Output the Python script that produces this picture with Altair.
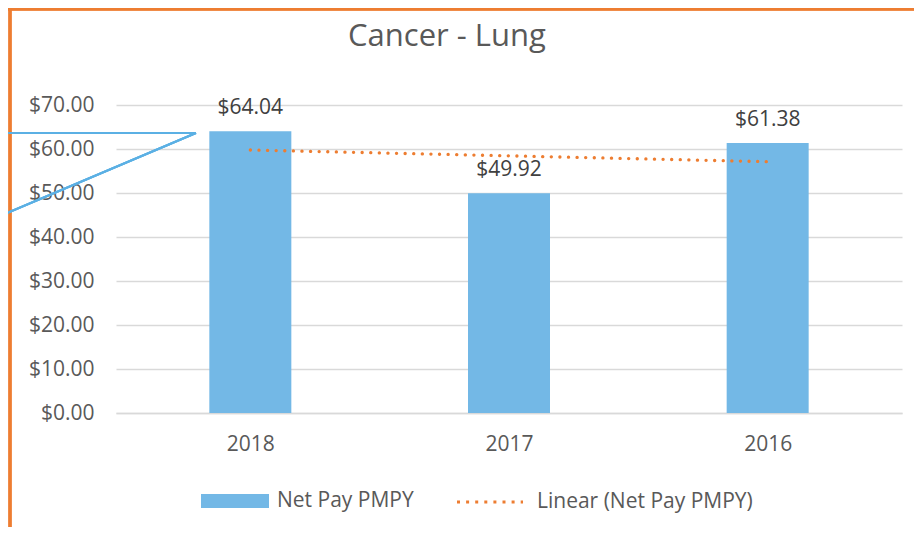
import altair as alt
import pandas as pd

years = ["2018", "2017", "2016"]
values = [64.04, 49.92, 61.38]
series_bar = "Net Pay PMPY"
series_trend = "Linear (Net Pay PMPY)"
y_ticks = [0, 10, 20, 30, 40, 50, 60, 70]

BLUE = "#73b8e6"
ORANGE = "#ed7d31"
TEXT = "#595959"
FONT = "Open Sans"

df = pd.DataFrame({
    "year": years,
    "idx": list(range(1, len(years) + 1)),
    "value": values,
    "series": [series_bar] * len(years),
})

label_expr = "datum.value == 1 ? '2018' : datum.value == 2 ? '2017' : datum.value == 3 ? '2016' : ''"

x_scale = alt.Scale(domain=[0.5, 3.5], nice=False, zero=False)
y_scale = alt.Scale(domain=[0, 70], nice=False)

x_axis = alt.Axis(
    values=[1, 2, 3], labelExpr=label_expr, title=None, grid=False, ticks=False,
    domain=True, domainColor="#d9d9d9", domainWidth=1.5,
    labelFontSize=21, labelColor=TEXT, labelFont=FONT, labelPadding=20,
)
y_axis = alt.Axis(
    values=y_ticks, format="$,.2f", title=None, ticks=False, domain=False,
    gridColor="#d9d9d9", gridWidth=1.5,
    labelFontSize=21, labelColor=TEXT, labelFont=FONT, labelPadding=22,
)

base = alt.Chart(df)

bars = base.mark_bar(size=82).encode(
    x=alt.X("idx:Q", scale=x_scale, axis=x_axis),
    y=alt.Y("value:Q", scale=y_scale, axis=y_axis),
    color=alt.Color(
        "series:N",
        scale=alt.Scale(domain=[series_bar], range=[BLUE]),
        legend=alt.Legend(
            title=None, orient="none", legendX=85, legendY=362,
            symbolType="M-1,-0.206H1V0.206H-1Z", symbolSize=4624,
            symbolStrokeWidth=0, labelFontSize=21, labelColor=TEXT, labelFont=FONT,
            labelOffset=8, labelLimit=0,
        ),
    ),
)

labels = base.mark_text(
    dy=-17, baseline="alphabetic", fontSize=21, color="#404040", font=FONT
).encode(
    x=alt.X("idx:Q", scale=x_scale),
    y=alt.Y("value:Q", scale=y_scale),
    text=alt.Text("value:Q", format="$,.2f"),
)

trend = base.transform_regression(
    "idx", "value", extent=[1, 3]
).transform_calculate(
    series=f"'{series_trend}'"
).mark_line(
    strokeWidth=3.3, strokeCap="round", strokeDash=[0.1, 8.5]
).encode(
    x=alt.X("idx:Q", scale=x_scale),
    y=alt.Y("value:Q", scale=y_scale),
    stroke=alt.Stroke(
        "series:N",
        scale=alt.Scale(domain=[series_trend], range=[ORANGE]),
        legend=alt.Legend(
            title=None, orient="none", legendX=339, legendY=362,
            symbolType="stroke", symbolSize=4356, symbolStrokeWidth=3.2,
            symbolDash=[3, 6.1], labelFontSize=21, labelColor=TEXT, labelFont=FONT,
            labelOffset=12, labelLimit=0,
        ),
    ),
)

# decorative frame and callout lines
frame_top = alt.Chart(df).mark_rule(color=ORANGE, strokeWidth=3).encode(
    x=alt.value(-108), x2=alt.value(800), y=alt.value(-96)
)
frame_left = alt.Chart(df).mark_rule(color=ORANGE, strokeWidth=3).encode(
    x=alt.value(-106), y=alt.value(-97), y2=alt.value(430)
)
call_h = alt.Chart(df).mark_rule(color="#5bb0e4", strokeWidth=2).encode(
    x=alt.value(-116), x2=alt.value(80), y=alt.value(28)
)
call_d = alt.Chart(df).mark_rule(color="#5bb0e4", strokeWidth=2).encode(
    x=alt.value(80), x2=alt.value(-116), y=alt.value(28), y2=alt.value(111)
)

chart = alt.layer(frame_top, frame_left, call_h, call_d, bars, trend, labels).properties(
    width=786, height=308,
    autosize=alt.AutoSizeParams(type="none"),
    padding={"left": 108, "top": 97, "right": 12, "bottom": 114},
    title=alt.TitleParams(
        "Cancer - Lung", fontSize=31, font=FONT, color=TEXT, fontWeight="normal",
        anchor="middle", dx=-62, offset=-46,
    ),
).configure_view(stroke=None)

chart.save("out.html", embed_options={"renderer": "svg", "actions": False})
